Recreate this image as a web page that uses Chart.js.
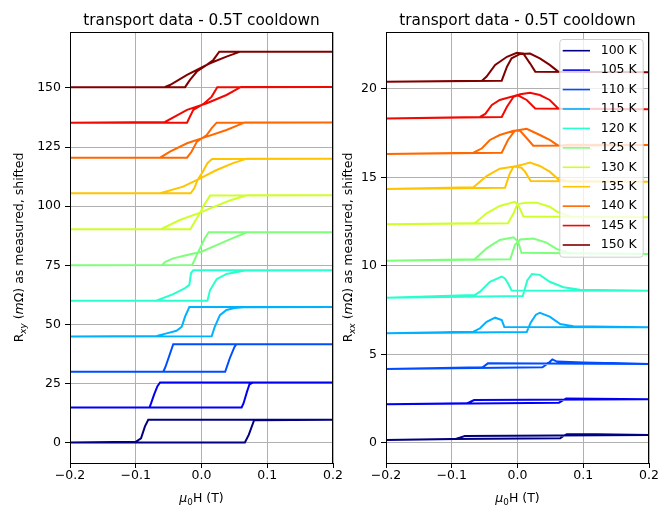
<!DOCTYPE html>
<html>
<head>
<meta charset="utf-8">
<script src="https://cdn.jsdelivr.net/npm/chart.js@4"></script>
<style>
  html, body { margin: 0; padding: 0; background: #fff; overflow: hidden; width: 660px; height: 508px; }
  canvas { position: absolute; top: 0; }
  #left { left: 0; }
  #right { left: 338px; }
</style>
</head>
<body>
<canvas id="left" width="360" height="508"></canvas>
<canvas id="right" width="330" height="508"></canvas>
<script>
/* ================== DATA ================== */
const temps = [100, 105, 110, 115, 120, 125, 130, 135, 140, 145, 150];
const colors = ["#000080", "#0000f3", "#004dff", "#00b1ff", "#29ffce", "#7dff7a",
                "#ceff29", "#ffc400", "#ff6800", "#f10800", "#800000"];
const xTicks = [-0.2, -0.1, 0.0, 0.1, 0.2];
const yTicksXY = [0, 25, 50, 75, 100, 125, 150];
const yTicksXX = [0, 5, 10, 15, 20];
const titleText = "transport data - 0.5T cooldown";

// each loop: sweep up (-0.2 -> 0.2) then sweep down (0.2 -> -0.2), [field T, value mOhm]
const rxy100 = [[-0.2,0.2],[0.066,0.2],[0.072,3.5],[0.08,9.6],[0.2,9.8],[-0.081,9.8],[-0.086,7],[-0.092,2],[-0.1,0.5],[-0.2,0.2]];
const rxy105 = [[-0.2,15.0],[0.061,15.0],[0.064,16.8],[0.069,21.5],[0.073,24.8],[0.078,25.5],[0.2,25.6],[-0.063,25.6],[-0.067,24],[-0.072,20.5],[-0.077,16.5],[-0.079,15.1],[-0.2,15.0]];
const rxy110 = [[-0.2,30.1],[0.036,30.1],[0.043,35.8],[0.05,40.5],[0.053,41.7],[0.2,41.7],[-0.043,41.7],[-0.05,36],[-0.055,32],[-0.058,30.2],[-0.2,30.1]];
const rxy115 = [[-0.2,45.0],[0.0155,45.1],[0.02,48.9],[0.028,54],[0.038,56.2],[0.05,57],[0.064,57.3],[0.2,57.4],[-0.0185,57.4],[-0.025,53.4],[-0.03,49.1],[-0.038,47.4],[-0.053,46.3],[-0.068,45.2],[-0.2,45.0]];
const rxy120 = [[-0.2,60.1],[0.009,60.1],[0.013,64.6],[0.023,69.2],[0.038,71.4],[0.066,72.9],[0.2,73.0],[-0.0125,73.0],[-0.016,71.7],[-0.0185,66.8],[-0.025,65.4],[-0.043,62.9],[-0.068,60.2],[-0.2,60.1]];
const rxy125 = [[-0.2,75.1],[-0.014,75.2],[-0.008,78.9],[0.0,83.6],[0.005,86.5],[0.011,89.0],[0.2,89.0],[0.069,89.0],[0.043,86.0],[0.023,83.6],[0.0,80.8],[-0.022,79.4],[-0.043,78.0],[-0.055,76.5],[-0.06,75.2],[-0.2,75.1]];
const rxy130 = [[-0.2,90.3],[-0.017,90.3],[-0.011,93.1],[-0.002,97.3],[0.003,100.1],[0.013,104.5],[0.2,104.6],[0.069,104.6],[0.043,102.4],[0.013,99.1],[-0.002,97.3],[-0.033,94.2],[-0.061,90.4],[-0.2,90.3]];
const rxy135 = [[-0.2,105.5],[-0.0165,105.5],[-0.011,107.6],[-0.006,111.1],[0.002,114.6],[0.009,118.2],[0.016,120.0],[0.2,120.1],[0.069,120.1],[0.048,118.2],[0.023,115.3],[-0.002,111.8],[-0.028,108.3],[-0.063,105.5],[-0.2,105.5]];
const rxy140 = [[-0.2,120.5],[-0.022,120.5],[-0.015,123.1],[-0.007,127.3],[0.008,130.1],[0.0155,133],[0.023,135.3],[0.2,135.4],[0.066,135.4],[0.038,132.2],[0.008,129.4],[-0.022,126.6],[-0.048,123.1],[-0.063,120.5],[-0.2,120.5]];
const rxy145 = [[-0.2,135.3],[-0.022,135.3],[-0.0175,137.9],[-0.0125,140.7],[0.003,143.2],[0.0155,146.3],[0.024,150.3],[0.2,150.4],[0.06,150.4],[0.038,147.0],[0.008,143.5],[-0.022,140.7],[-0.0555,135.6],[-0.2,135.3]];
const rxy150 = [[-0.2,150.3],[-0.025,150.3],[-0.0175,153.4],[-0.007,156.9],[0.008,159.7],[0.018,161.8],[0.027,165.3],[0.2,165.3],[0.059,165.3],[0.038,163.2],[0.013,160.4],[-0.022,155.5],[-0.048,151.2],[-0.0555,150.4],[-0.2,150.3]];

const rxx100 = [[-0.2,0.17],[-0.1,0.22],[0.065,0.27],[0.07,0.4],[0.075,0.5],[0.12,0.5],[0.2,0.45],[-0.08,0.4],[-0.088,0.3],[-0.095,0.22],[-0.2,0.17]];
const rxx105 = [[-0.2,2.19],[0.063,2.28],[0.074,2.52],[0.2,2.47],[-0.066,2.43],[-0.076,2.25],[-0.2,2.19]];
const rxx110 = [[-0.2,4.18],[0.038,4.28],[0.048,4.55],[0.053,4.72],[0.06,4.6],[0.1,4.55],[0.2,4.47],[-0.045,4.5],[-0.053,4.28],[-0.2,4.18]];
const rxx115 = [[-0.2,6.2],[0.014,6.27],[0.02,6.8],[0.028,7.25],[0.034,7.36],[0.049,7.14],[0.065,6.72],[0.085,6.6],[0.2,6.54],[-0.02,6.56],[-0.024,6.95],[-0.034,7.08],[-0.047,6.85],[-0.057,6.48],[-0.067,6.29],[-0.2,6.2]];
const rxx120 = [[-0.2,8.21],[0.008,8.3],[0.015,9.2],[0.022,9.55],[0.034,9.5],[0.049,9.11],[0.07,8.8],[0.095,8.66],[0.2,8.6],[-0.009,8.62],[-0.0145,9.02],[-0.019,9.3],[-0.024,9.4],[-0.042,9.11],[-0.057,8.55],[-0.065,8.36],[-0.2,8.21]];
const rxx125 = [[-0.2,10.3],[-0.011,10.38],[-0.004,11.19],[0.004,11.5],[0.024,11.55],[0.044,11.32],[0.06,10.95],[0.08,10.72],[0.2,10.68],[0.006,10.75],[0.001,11.37],[-0.006,11.62],[-0.027,11.47],[-0.047,11.0],[-0.065,10.38],[-0.2,10.3]];
const rxx130 = [[-0.2,12.36],[-0.0145,12.42],[-0.006,12.98],[0.0,13.5],[0.014,13.58],[0.029,13.58],[0.049,13.35],[0.06,13.07],[0.08,12.8],[0.2,12.75],[0.009,12.8],[0.001,13.45],[-0.004,13.63],[-0.027,13.39],[-0.047,12.98],[-0.065,12.42],[-0.2,12.36]];
const rxx135 = [[-0.2,14.35],[-0.019,14.42],[-0.012,15.2],[-0.006,15.62],[0.005,15.7],[0.019,15.84],[0.034,15.65],[0.049,15.33],[0.062,14.9],[0.08,14.78],[0.2,14.76],[0.02,14.8],[0.012,15.3],[0.006,15.55],[-0.005,15.62],[-0.027,15.5],[-0.047,15.08],[-0.067,14.45],[-0.2,14.35]];
const rxx140 = [[-0.2,16.33],[-0.024,16.4],[-0.0145,17.12],[-0.004,17.64],[0.014,17.75],[0.034,17.4],[0.049,17.12],[0.062,16.8],[0.08,16.85],[0.2,16.84],[0.024,16.8],[0.0165,17.12],[0.004,17.64],[-0.006,17.64],[-0.027,17.4],[-0.042,17.12],[-0.054,16.65],[-0.067,16.4],[-0.2,16.33]];
const rxx145 = [[-0.2,18.34],[-0.024,18.42],[-0.016,19.0],[-0.006,19.56],[0.004,19.7],[0.019,19.79],[0.034,19.66],[0.049,19.38],[0.062,18.9],[0.2,18.85],[0.027,18.9],[0.014,19.38],[0.0,19.66],[-0.027,19.38],[-0.039,19.1],[-0.049,18.59],[-0.057,18.42],[-0.2,18.34]];
const rxx150 = [[-0.2,20.41],[-0.024,20.47],[-0.016,21.26],[-0.009,21.73],[0.004,21.98],[0.019,22.0],[0.034,21.73],[0.049,21.36],[0.062,20.98],[0.2,20.95],[0.027,20.98],[0.019,21.45],[0.009,22.0],[-0.001,22.05],[-0.016,21.82],[-0.034,21.36],[-0.047,20.7],[-0.054,20.47],[-0.2,20.41]];

const loopsXY = [rxy100, rxy105, rxy110, rxy115, rxy120, rxy125, rxy130, rxy135, rxy140, rxy145, rxy150];
const loopsXX = [rxx100, rxx105, rxx110, rxx115, rxx120, rxx125, rxx130, rxx135, rxx140, rxx145, rxx150];

// label pieces: [text, flags] -- i = italic, s = subscript
const xLabel = [["\u03bc", "i"], ["0", "s"], ["H (T)", ""]];
const yLabelXY = [["R", ""], ["xy", "is"], [" (", ""], ["m", "i"], ["\u03a9) as measured, shifted", ""]];
const yLabelXX = [["R", ""], ["xx", "is"], [" (", ""], ["m", "i"], ["\u03a9) as measured, shifted", ""]];

const FONT = '"DejaVu Sans"';

/* ================== HELPERS ================== */
function richText(ctx, parts, x, y, size, rotated) {
  ctx.save();
  ctx.translate(x, y);
  if (rotated) ctx.rotate(-Math.PI / 2);
  const fontOf = f => `${f.includes("i") ? "italic " : ""}${f.includes("s") ? size * 0.7 : size}px ${FONT}`;
  let total = 0;
  const widths = parts.map(([t, f]) => {
    ctx.font = fontOf(f);
    const w = ctx.measureText(t).width;
    total += w;
    return w;
  });
  ctx.fillStyle = "#000";
  ctx.textAlign = "left";
  ctx.textBaseline = "alphabetic";
  let cx = -total / 2;
  parts.forEach(([t, f], i) => {
    ctx.font = fontOf(f);
    ctx.fillText(t, cx, f.includes("s") ? size * 0.22 : 0);
    cx += widths[i];
  });
  ctx.restore();
}

const fmtX = v => (v < 0 ? "\u2212" : "") + Math.abs(v).toFixed(1);

const decor = {
  id: "decor",
  afterDatasetsDraw(chart, args, opts) {
    const { ctx, chartArea: a } = chart;
    ctx.save();
    // frame
    ctx.strokeStyle = "#000";
    ctx.lineWidth = 1;
    ctx.strokeRect(Math.round(a.left) + 0.5, Math.round(a.top) + 0.5,
                   Math.round(a.right - a.left) - 1, Math.round(a.bottom - a.top));
    // legend
    if (opts.legend) {
      const bx = a.right - 89.7, by = a.top + 7, bw = 83.4, bh = 217.7;
      ctx.fillStyle = "rgba(255,255,255,0.8)";
      ctx.strokeStyle = "#cccccc";
      ctx.beginPath();
      ctx.roundRect(bx + 0.5, by + 0.5, bw, bh, 3);
      ctx.fill();
      ctx.stroke();
      ctx.font = `12.5px ${FONT}`;
      ctx.textBaseline = "middle";
      ctx.textAlign = "left";
      chart.data.datasets.forEach((ds, i) => {
        const ry = by + 11.7 + i * 19.43;
        ctx.strokeStyle = ds.borderColor;
        ctx.lineWidth = 1.6;
        ctx.beginPath();
        ctx.moveTo(bx + 3.4, ry);
        ctx.lineTo(bx + 30.7, ry);
        ctx.stroke();
        ctx.fillStyle = "#000";
        ctx.fillText(ds.label, bx + 41.4, ry);
      });
    }
    ctx.restore();
  },
  afterDraw(chart, args, opts) {
    const { ctx, chartArea: a } = chart;
    const cx = (a.left + a.right) / 2;
    ctx.save();
    ctx.fillStyle = "#000";
    ctx.font = `15.3px ${FONT}`;
    ctx.textAlign = "center";
    ctx.textBaseline = "alphabetic";
    ctx.fillText(titleText, cx, 25);
    ctx.restore();
    richText(ctx, xLabel, cx, 502, 12.5, false);
    richText(ctx, opts.yLabel, opts.yLabelX, (a.top + a.bottom) / 2, 12.5, true);
  }
};

/* ================== CHARTS ================== */
function makeChart(id, loops, yMin, yMax, yTicks, axisW, padRight, yLabel, yLabelX, legend) {
  const datasets = loops.map((pts, i) => ({
    label: `${temps[i]} K`,
    data: pts.map(p => ({ x: p[0], y: p[1] })),
    borderColor: colors[i],
    backgroundColor: colors[i],
    borderWidth: 2,
    pointRadius: 0,
    showLine: true,
    fill: false,
    tension: 0
  }));

  const tickFont = { family: FONT, size: 12.5 };
  const grid = { color: "#b0b0b0", lineWidth: 1, tickColor: "#000", tickLength: 5, drawTicks: true };

  return new Chart(document.getElementById(id), {
    type: "scatter",
    data: { datasets },
    plugins: [decor],
    options: {
      responsive: false,
      animation: false,
      layout: { padding: { top: 32, right: padRight, left: 0, bottom: 0 } },
      plugins: {
        legend: { display: false },
        tooltip: { enabled: false },
        decor: { yLabel, yLabelX, legend }
      },
      scales: {
        x: {
          type: "linear", min: -0.2, max: 0.2,
          afterBuildTicks: s => { s.ticks = xTicks.map(v => ({ value: v })); },
          afterFit: s => { s.height = 45; },
          grid, border: { display: false },
          ticks: { color: "#000", font: tickFont, padding: 0, maxRotation: 0, autoSkip: false, callback: fmtX }
        },
        y: {
          type: "linear", min: yMin, max: yMax,
          afterBuildTicks: s => { s.ticks = yTicks.map(v => ({ value: v })); },
          afterFit: s => { s.width = axisW; },
          grid, border: { display: false },
          ticks: { color: "#000", font: tickFont, padding: 4, autoSkip: false, callback: v => String(v) }
        }
      }
    }
  });
}

makeChart("left", loopsXY, -8.45, 173.6, yTicksXY, 70, 27, yLabelXY, 23, false);
makeChart("right", loopsXX, -1.13, 23.22, yTicksXX, 48, 19, yLabelXX, 14, true);
</script>
</body>
</html>
